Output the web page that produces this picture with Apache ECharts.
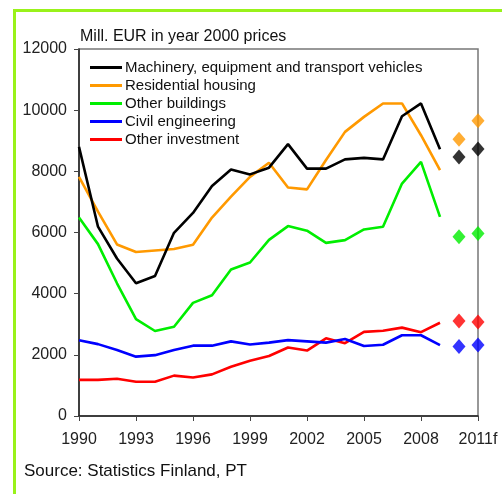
<!DOCTYPE html>
<html>
<head>
<meta charset="utf-8">
<script src="https://cdn.jsdelivr.net/npm/echarts@6/dist/echarts.min.js"></script>
<style>
  html, body { margin: 0; padding: 0; background: #fff; }
  #chart { width: 502px; height: 494px; position: relative; }
  .frame { position: absolute; left: 13px; top: 9px; right: 0; bottom: 0;
           border-left: 3px solid #99f21a; border-top: 3px solid #99f21a; pointer-events: none; }
</style>
</head>
<body>
<div id="chart"></div>
<div class="frame"></div>
<script>
// years on the axis, last one is the forecast
const years = ['1990','1991','1992','1993','1994','1995','1996','1997','1998','1999','2000',
  '2001','2002','2003','2004','2005','2006','2007','2008','2009','2010','2011f'];

// actual values 1990-2009 (Mill. EUR, 2000 prices)
const machinery   = [8800, 6190, 5150, 4340, 4580, 5990, 6640, 7520, 8060, 7900, 8120, 8890, 8090, 8090, 8390, 8440, 8390, 9800, 10220, 8720];
const residential = [7820, 6680, 5610, 5360, 5410, 5460, 5600, 6490, 7170, 7820, 8280, 7470, 7410, 8370, 9290, 9780, 10220, 10220, 9180, 8040];
const otherBuild  = [6490, 5620, 4340, 3170, 2780, 2920, 3700, 3950, 4790, 5020, 5760, 6210, 6060, 5660, 5750, 6100, 6190, 7600, 8310, 6510];
const civilEng    = [2480, 2350, 2160, 1940, 1990, 2160, 2300, 2300, 2440, 2340, 2400, 2480, 2440, 2400, 2520, 2290, 2330, 2640, 2640, 2320];
const otherInv    = [1180, 1180, 1220, 1120, 1120, 1320, 1260, 1360, 1610, 1810, 1960, 2240, 2140, 2540, 2380, 2750, 2790, 2890, 2740, 3050];

// forecasts for 2010 and 2011f
const machineryF   = [8470, 8730];
const residentialF = [9050, 9650];
const otherBuildF  = [5860, 5970];
const civilEngF    = [2270, 2320];
const otherInvF    = [3110, 3070];

const names  = ['Machinery, equipment and transport vehicles', 'Residential housing', 'Other buildings', 'Civil engineering', 'Other investment'];
const colors = ['#000000', '#ff9900', '#00ee00', '#0000ff', '#ff0000'];
const actual = [machinery, residential, otherBuild, civilEng, otherInv];
const fcast  = [machineryF, residentialF, otherBuildF, civilEngF, otherInvF];

const series = [];
actual.forEach((d, i) => {
  series.push({
    name: names[i], type: 'line', data: d, symbol: 'none',
    lineStyle: { color: colors[i], width: 2.6 }, itemStyle: { color: colors[i] },
    z: 5 - i
  });
});
fcast.forEach((d, i) => {
  series.push({
    name: names[i] + ' f', type: 'scatter', symbol: 'diamond', symbolSize: [13, 15],
    data: [[years[20], d[0]], [years[21], d[1]]],
    itemStyle: { color: colors[i] }
  });
});

const chart = echarts.init(document.getElementById('chart'));
chart.setOption({
  animation: false,
  textStyle: { fontFamily: 'Liberation Sans' },
  grid: { left: 79, right: 24, top: 49, bottom: 78, show: true, borderColor: '#777', borderWidth: 1.5 },
  legend: {
    data: names, orient: 'vertical', left: 90, top: 60, padding: 0,
    itemWidth: 32, itemHeight: 3, icon: 'rect', itemGap: 3,
    textStyle: { fontSize: 15, color: '#111', lineHeight: 14, height: 14, padding: [0, 0, 0, -2] }
  },
  xAxis: {
    type: 'category', data: years, boundaryGap: false,
    axisLine: { lineStyle: { color: '#222', width: 1.5 } },
    axisTick: { interval: 2, length: 5, lineStyle: { color: '#444' } },
    axisLabel: { interval: 2, fontSize: 16, color: '#222', margin: 16 },
    splitLine: { show: false }
  },
  yAxis: {
    type: 'value', min: 0, max: 12000, interval: 2000,
    axisLine: { show: true, lineStyle: { color: '#222', width: 1.5 } },
    axisTick: { show: true, length: 5, lineStyle: { color: '#444' } },
    axisLabel: { fontSize: 16, color: '#222', margin: 12, formatter: v => String(v) },
    splitLine: { show: false }
  },
  graphic: [
    { type: 'text', left: 80, top: 29, style: { text: 'Mill. EUR in year 2000 prices', fontSize: 16, fill: '#111', fontFamily: 'Liberation Sans' } },
    { type: 'text', left: 24, top: 463, style: { text: 'Source: Statistics Finland, PT', fontSize: 17, fill: '#111', fontFamily: 'Liberation Sans' } }
  ],
  series: series
});
</script>
</body>
</html>
